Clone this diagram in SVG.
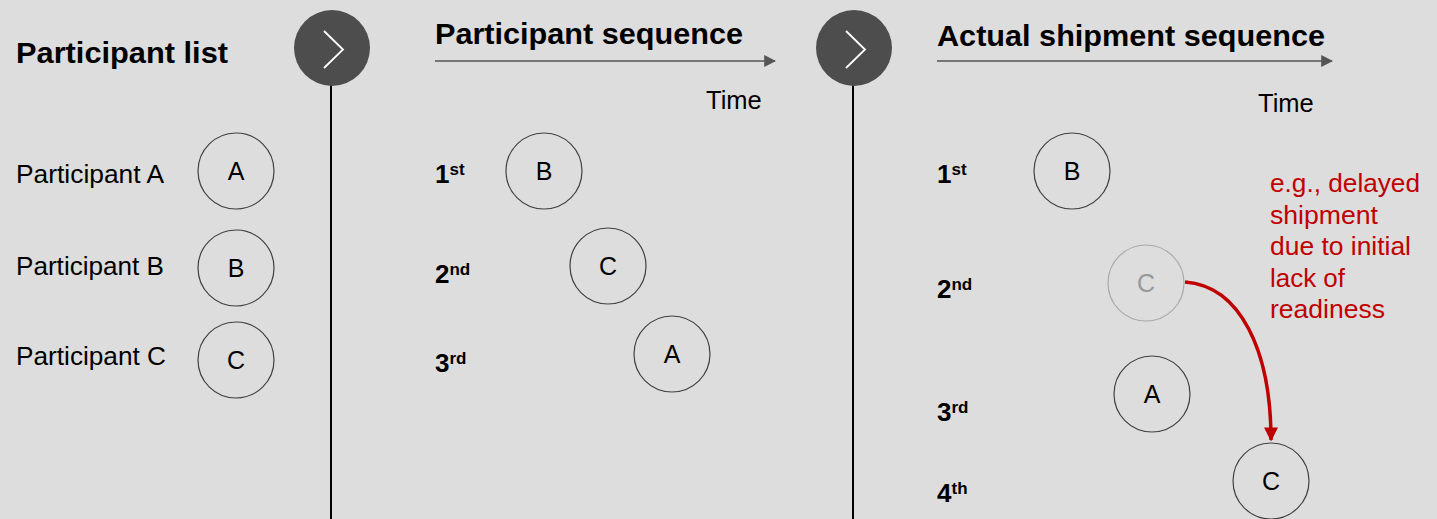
<svg xmlns="http://www.w3.org/2000/svg" width="1437" height="519" viewBox="0 0 1437 519">
<style>
text{font-family:"Liberation Sans",Arial,sans-serif;fill:#000}
.title{font-size:30px;font-weight:bold}
.lbl{font-size:26px}
.time{font-size:25.5px}
.ord{font-size:26px;font-weight:bold}
.sup{font-size:17px;font-weight:bold}
.node circle{fill:none;stroke:#404040;stroke-width:1.2}
.node text{font-size:25px;text-anchor:middle}
.red{fill:#c00000;font-size:26px}
</style>
<defs>
<marker id="ga" viewBox="0 0 10 10" refX="9" refY="5" markerWidth="12" markerHeight="12" markerUnits="userSpaceOnUse" orient="auto"><path d="M0,0L10,5L0,10z" fill="#555"/></marker>
<marker id="ra" viewBox="0 0 10 10" refX="9" refY="5" markerWidth="15" markerHeight="14" markerUnits="userSpaceOnUse" orient="auto"><path d="M0,0L10,5L0,10z" fill="#c00000"/></marker>
</defs>
<rect width="1437" height="519" fill="#dddddd"/>
<g id="dividers">
<line x1="331" y1="80" x2="331" y2="519" stroke="#000" stroke-width="2"/>
<line x1="853" y1="80" x2="853" y2="519" stroke="#000" stroke-width="2"/>
<circle cx="332" cy="48" r="38" fill="#4d4d4d"/>
<polyline points="324,31 343,49.5 324,68" fill="none" stroke="#fff" stroke-width="1.8"/>
<circle cx="854" cy="48" r="38" fill="#4d4d4d"/>
<polyline points="846,31 865,49.5 846,68" fill="none" stroke="#fff" stroke-width="1.8"/>
</g>
<g id="titles">
<text class="title" x="16" y="63" textLength="212" lengthAdjust="spacingAndGlyphs">Participant list</text>
<text class="title" x="435" y="44" textLength="308" lengthAdjust="spacingAndGlyphs">Participant sequence</text>
<text class="title" x="937" y="46" textLength="388" lengthAdjust="spacingAndGlyphs">Actual shipment sequence</text>
<text class="time" x="706" y="109">Time</text>
<text class="time" x="1258" y="112">Time</text>
<text class="lbl" x="16" y="183" textLength="148" lengthAdjust="spacingAndGlyphs">Participant A</text>
<text class="lbl" x="16" y="275" textLength="148" lengthAdjust="spacingAndGlyphs">Participant B</text>
<text class="lbl" x="16" y="365" textLength="150" lengthAdjust="spacingAndGlyphs">Participant C</text>
</g>
<g id="ordinals">
<text class="ord" x="435" y="183">1<tspan class="sup" dy="-8">st</tspan></text>
<text class="ord" x="435" y="283">2<tspan class="sup" dy="-8">nd</tspan></text>
<text class="ord" x="435" y="372">3<tspan class="sup" dy="-8">rd</tspan></text>
<text class="ord" x="937" y="183">1<tspan class="sup" dy="-8">st</tspan></text>
<text class="ord" x="937" y="298">2<tspan class="sup" dy="-8">nd</tspan></text>
<text class="ord" x="937" y="421">3<tspan class="sup" dy="-8">rd</tspan></text>
<text class="ord" x="937" y="502">4<tspan class="sup" dy="-8">th</tspan></text>
</g>
<g id="nodeA1" class="node"><circle cx="236" cy="171" r="38"/><text x="236" y="180">A</text></g>
<g id="nodeB1" class="node"><circle cx="236" cy="268" r="38"/><text x="236" y="277">B</text></g>
<g id="nodeC1" class="node"><circle cx="236" cy="360" r="38"/><text x="236" y="369">C</text></g>
<g id="nodeB2" class="node"><circle cx="544" cy="171" r="38"/><text x="544" y="180">B</text></g>
<g id="nodeC2" class="node"><circle cx="608" cy="266" r="38"/><text x="608" y="275">C</text></g>
<g id="nodeA2" class="node"><circle cx="672" cy="354" r="38"/><text x="672" y="363">A</text></g>
<g id="nodeB3" class="node"><circle cx="1072" cy="171" r="38"/><text x="1072" y="180">B</text></g>
<g id="nodeC3" class="node"><circle cx="1146" cy="283" r="38" style="stroke:#aaaaaa"/><text x="1146" y="292" style="fill:#999">C</text></g>
<g id="nodeA3" class="node"><circle cx="1152" cy="394" r="38"/><text x="1152" y="403">A</text></g>
<g id="nodeC4" class="node"><circle cx="1271" cy="481" r="38"/><text x="1271" y="490">C</text></g>
<g id="note">
<text class="red" x="1270" y="192" textLength="150" lengthAdjust="spacingAndGlyphs">e.g., delayed</text>
<text class="red" x="1270" y="223.5" textLength="108" lengthAdjust="spacingAndGlyphs">shipment</text>
<text class="red" x="1270" y="255" textLength="141" lengthAdjust="spacingAndGlyphs">due to initial</text>
<text class="red" x="1270" y="286.5" textLength="75" lengthAdjust="spacingAndGlyphs">lack of</text>
<text class="red" x="1270" y="318" textLength="115" lengthAdjust="spacingAndGlyphs">readiness</text>
</g>
<g id="connectors">
<line x1="435" y1="61" x2="775" y2="61" stroke="#555" stroke-width="1.5" marker-end="url(#ga)"/>
<line x1="937" y1="61" x2="1332" y2="61" stroke="#555" stroke-width="1.5" marker-end="url(#ga)"/>
<path d="M1185,282 C1240,286 1271,350 1271,440" fill="none" stroke="#c00000" stroke-width="3.5" marker-end="url(#ra)"/>
</g>
</svg>
